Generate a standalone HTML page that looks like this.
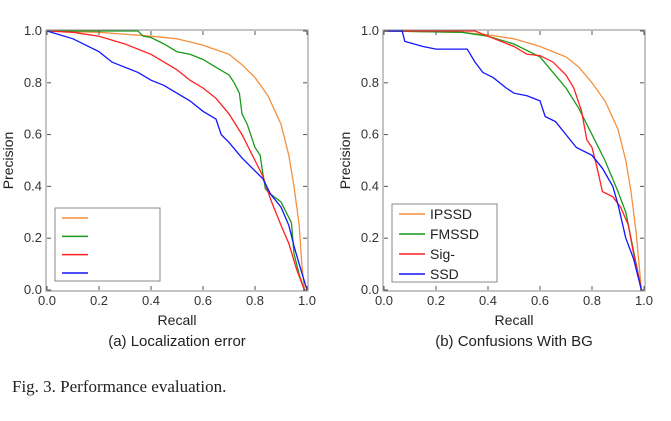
<!DOCTYPE html>
<html><head><meta charset="utf-8"><style>
body{margin:0;background:#fff;width:671px;height:416px;overflow:hidden;}
svg{font-family:"Liberation Sans",sans-serif;}
</style></head><body>
<svg id="fig" width="671" height="416">
<text x="12" y="392" font-family="Liberation Serif" font-size="17" fill="#222">Fig. 3.  Performance evaluation.</text>
</svg>
<script>
const ticks=[0,0.2,0.4,0.6,0.8,1.0];
const tickLabels=["0.0","0.2","0.4","0.6","0.8","1.0"];
const seriesNames=["IPSSD","FMSSD","Sig-","SSD"];
const colors=["#f5903c","#1a9a1a","#ff2020","#1414ff"];
// Left panel (a)
const aOrangeR=[0,0.2,0.4,0.5,0.6,0.7,0.75,0.8,0.85,0.9,0.93,0.95,0.97,0.98,0.99];
const aOrangeP=[1,0.995,0.98,0.97,0.945,0.91,0.87,0.82,0.75,0.64,0.52,0.4,0.25,0.1,0];
const aGreenR=[0,0.35,0.37,0.4,0.45,0.5,0.55,0.6,0.65,0.7,0.72,0.74,0.75,0.77,0.79,0.8,0.82,0.83,0.84,0.86,0.9,0.92,0.94,0.95,0.97,0.99];
const aGreenP=[1,1,0.98,0.975,0.95,0.92,0.91,0.89,0.86,0.83,0.8,0.76,0.68,0.64,0.58,0.55,0.52,0.45,0.39,0.37,0.34,0.3,0.26,0.14,0.06,0];
const aRedR=[0,0.1,0.2,0.3,0.4,0.5,0.55,0.6,0.65,0.7,0.75,0.8,0.83,0.86,0.9,0.93,0.96,0.99];
const aRedP=[1,0.995,0.98,0.95,0.91,0.85,0.81,0.78,0.74,0.68,0.6,0.5,0.44,0.35,0.25,0.18,0.08,0];
const aBlueR=[0,0.1,0.2,0.25,0.3,0.35,0.4,0.45,0.5,0.55,0.6,0.65,0.67,0.7,0.75,0.8,0.83,0.86,0.9,0.93,0.95,0.97,1.0];
const aBlueP=[1,0.97,0.92,0.88,0.86,0.84,0.81,0.79,0.76,0.73,0.69,0.66,0.6,0.57,0.51,0.46,0.43,0.37,0.32,0.25,0.17,0.1,0];
// Right panel (b)
const bOrangeR=[0,0.3,0.4,0.5,0.6,0.7,0.75,0.8,0.85,0.9,0.93,0.95,0.97,0.99];
const bOrangeP=[1,0.995,0.985,0.97,0.94,0.9,0.86,0.8,0.73,0.62,0.5,0.38,0.22,0];
const bGreenR=[0,0.3,0.4,0.5,0.6,0.65,0.7,0.75,0.8,0.85,0.9,0.93,0.96,0.99];
const bGreenP=[1,0.995,0.98,0.95,0.9,0.84,0.78,0.7,0.6,0.5,0.38,0.3,0.15,0];
const bRedR=[0,0.35,0.4,0.5,0.55,0.6,0.65,0.7,0.73,0.76,0.78,0.8,0.82,0.84,0.88,0.91,0.94,0.96,0.98,0.99];
const bRedP=[1,1,0.98,0.94,0.91,0.905,0.88,0.83,0.78,0.69,0.58,0.55,0.47,0.38,0.36,0.32,0.25,0.14,0.05,0];
const bBlueR=[0,0.07,0.08,0.15,0.2,0.32,0.35,0.38,0.42,0.47,0.5,0.55,0.6,0.62,0.66,0.7,0.74,0.8,0.84,0.88,0.9,0.93,0.96,0.99];
const bBlueP=[1,1,0.96,0.94,0.93,0.93,0.88,0.84,0.82,0.78,0.76,0.75,0.73,0.67,0.65,0.6,0.55,0.52,0.47,0.4,0.33,0.2,0.12,0];

const NS="http://www.w3.org/2000/svg";
const svg=document.getElementById('fig');
function mk(tag,attrs,parent){const e=document.createElementNS(NS,tag);for(const k in attrs)e.setAttribute(k,attrs[k]);(parent||svg).appendChild(e);return e;}

function panel(id,x0,x1,y0,y1,caption,series,legendBox,labels){
  const g=mk('g',{});
  
  
  const sx=v=>x0+v*(x1-x0), sy=v=>y0-v*(y0-y1);
  series.forEach((s,i)=>{
    const pts=s[0].map((r,j)=>sx(r).toFixed(1)+','+sy(s[1][j]).toFixed(1)).join(' ');
    const pl=mk('polyline',{points:pts,fill:'none',stroke:colors[i],'stroke-width':1.3},g);
    
    
  });
  const fr=mk('rect',{x:x0-1,y:y1-1,width:x1-x0+2,height:y0-y1+2,fill:'none',stroke:'#888','stroke-width':1},g);
  
  
  ticks.forEach((t,i)=>{
    mk('line',{x1:sx(t),x2:sx(t),y1:y0,y2:y0-4,stroke:'#555'},g);
    mk('line',{x1:sx(t),x2:sx(t),y1:y1,y2:y1+4,stroke:'#555'},g);
    mk('line',{x1:x0,x2:x0+4,y1:sy(t),y2:sy(t),stroke:'#555'},g);
    mk('line',{x1:x1,x2:x1-4,y1:sy(t),y2:sy(t),stroke:'#555'},g);
    const tx=mk('text',{x:sx(t),y:y0+15,'text-anchor':'middle','font-size':13,fill:'#333'},g);
    tx.textContent=tickLabels[i];
    
    
    const ty=mk('text',{x:x0-5,y:sy(t)+4,'text-anchor':'end','font-size':13,fill:'#333'},g);
    ty.textContent=tickLabels[i];
    
    
  });
  const xt=mk('text',{x:(x0+x1)/2,y:325,'text-anchor':'middle','font-size':14,fill:'#222'},g);
  xt.textContent='Recall';
  
  
  const yt=mk('text',{x:0,y:0,'text-anchor':'middle','font-size':14,fill:'#222',transform:`translate(${x0-34},${(y0+y1)/2}) rotate(-90)`},g);
  yt.textContent='Precision';
  
  
  const cp=mk('text',{x:(x0+x1)/2,y:346,'text-anchor':'middle','font-size':15,fill:'#222'},g);
  cp.textContent=caption;
  
  
  const [lx,ly,lw,lh]=legendBox;
  const lg=mk('g',{},g);
  
  
  mk('rect',{x:lx,y:ly,width:lw,height:lh,fill:'#fff',stroke:'#888'},lg);
  seriesNames.forEach((n,i)=>{
    const yy=ly+10+i*(lh-18)/3;
    const e=mk('g',{},lg);
    
    
    mk('line',{x1:lx+7,x2:lx+33,y1:yy,y2:yy,stroke:colors[i],'stroke-width':1.5},e);
    if(labels){const t=mk('text',{x:lx+38,y:yy+5,'font-size':14,fill:'#222'},e);t.textContent=n;}
  });
}
panel('localization',47,307,290,31,'(a) Localization error',
  [[aOrangeR,aOrangeP],[aGreenR,aGreenP],[aRedR,aRedP],[aBlueR,aBlueP]],[55,208,105,73],false);
panel('confusions-bg',384,644,290,31,'(b) Confusions With BG',
  [[bOrangeR,bOrangeP],[bGreenR,bGreenP],[bRedR,bRedP],[bBlueR,bBlueP]],[392,204,105,78],true);
</script>
</body></html>
